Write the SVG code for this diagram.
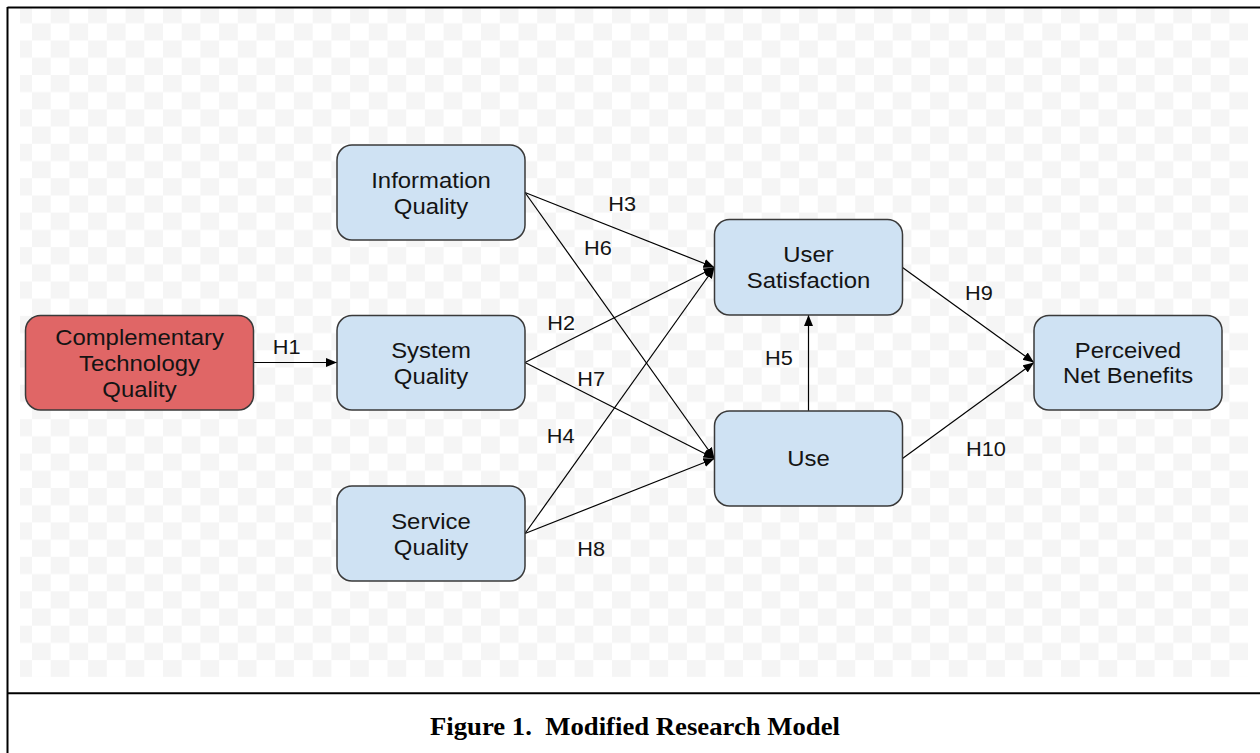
<svg xmlns="http://www.w3.org/2000/svg" width="1260" height="753" viewBox="0 0 1260 753">
<defs>
<pattern id="chk" patternUnits="userSpaceOnUse" x="13.29" y="6.12" width="37.42" height="34.42">
<rect x="0" y="0" width="18.71" height="17.21" fill="#f5f5f5"/>
<rect x="18.71" y="17.21" width="18.71" height="17.21" fill="#f5f5f5"/>
</pattern>
<marker id="arr" markerUnits="userSpaceOnUse" markerWidth="12" markerHeight="10" refX="11" refY="4.5" orient="auto">
<path d="M0,0 L11,4.5 L0,9 Z" fill="#000"/>
</marker>
<style>
.box{fill:#cfe2f3;stroke:#3a3a3a;stroke-width:1.5}
.red{fill:#e06666;stroke:#3a3a3a;stroke-width:1.5}
.nt{font-family:"Liberation Sans",Arial,sans-serif;font-size:22px;fill:#141414;text-anchor:middle}
.lb{font-family:"Liberation Sans",Arial,sans-serif;font-size:20px;fill:#141414}
.edge{stroke:#000;stroke-width:1.2;fill:none;marker-end:url(#arr)}
.frame{stroke:#000;stroke-width:2;fill:none}
</style>
</defs>
<rect x="0" y="0" width="1260" height="753" fill="#fff"/>
<rect x="20" y="8" width="1228" height="669" fill="url(#chk)"/>
<g id="frame">
<line class="frame" x1="7.5" y1="7.5" x2="1260" y2="7.5"/>
<line class="frame" x1="7.5" y1="7" x2="7.5" y2="753"/>
<line class="frame" x1="7" y1="693.3" x2="1260" y2="693.3"/>
</g>
<g id="connectors">
<line class="edge" x1="253" y1="362.5" x2="337" y2="362.5"/>
<line class="edge" x1="525" y1="192.5" x2="714.5" y2="267.5"/>
<line class="edge" x1="525" y1="192.5" x2="714.5" y2="458.5"/>
<line class="edge" x1="525" y1="362.5" x2="714.5" y2="267.5"/>
<line class="edge" x1="525" y1="362.5" x2="714.5" y2="458.5"/>
<line class="edge" x1="525" y1="533.5" x2="714.5" y2="267.5"/>
<line class="edge" x1="525" y1="533.5" x2="714.5" y2="458.5"/>
<line class="edge" x1="808.5" y1="411" x2="808.5" y2="315"/>
<line class="edge" x1="902.5" y1="267.5" x2="1034" y2="362.5"/>
<line class="edge" x1="902.5" y1="458.5" x2="1034" y2="362.5"/>
</g>
<g id="labels">
<text class="lb" transform="translate(272.7,353.5) scale(1.087 1)">H1</text>
<text class="lb" transform="translate(608.3,211) scale(1.087 1)">H3</text>
<text class="lb" transform="translate(584,255) scale(1.087 1)">H6</text>
<text class="lb" transform="translate(547.3,330) scale(1.087 1)">H2</text>
<text class="lb" transform="translate(577.3,386) scale(1.087 1)">H7</text>
<text class="lb" transform="translate(546.7,443.3) scale(1.087 1)">H4</text>
<text class="lb" transform="translate(577.3,556) scale(1.087 1)">H8</text>
<text class="lb" transform="translate(765,365) scale(1.087 1)">H5</text>
<text class="lb" transform="translate(965,300) scale(1.087 1)">H9</text>
<text class="lb" transform="translate(966,456) scale(1.087 1)">H10</text>
</g>
<g id="ctq">
<rect class="red" x="25.5" y="315.5" width="228" height="94.5" rx="15"/>
<text class="nt" transform="translate(139.5,344.5) scale(1.087 1)">Complementary</text>
<text class="nt" transform="translate(139.5,370.5) scale(1.087 1)">Technology</text>
<text class="nt" transform="translate(139.5,396.5) scale(1.087 1)">Quality</text>
</g>
<g id="info">
<rect class="box" x="337" y="145" width="188" height="95" rx="15"/>
<text class="nt" transform="translate(431,187.5) scale(1.087 1)">Information</text>
<text class="nt" transform="translate(431,213.5) scale(1.087 1)">Quality</text>
</g>
<g id="system">
<rect class="box" x="337" y="315.5" width="188" height="94.5" rx="15"/>
<text class="nt" transform="translate(431,357.5) scale(1.087 1)">System</text>
<text class="nt" transform="translate(431,383.5) scale(1.087 1)">Quality</text>
</g>
<g id="service">
<rect class="box" x="337" y="486" width="188" height="95" rx="15"/>
<text class="nt" transform="translate(431,528.5) scale(1.087 1)">Service</text>
<text class="nt" transform="translate(431,554.5) scale(1.087 1)">Quality</text>
</g>
<g id="usersat">
<rect class="box" x="714.5" y="219.5" width="188" height="95.5" rx="15"/>
<text class="nt" transform="translate(808.5,262.3) scale(1.087 1)">User</text>
<text class="nt" transform="translate(808.5,288) scale(1.087 1)">Satisfaction</text>
</g>
<g id="use">
<rect class="box" x="714.5" y="411" width="188" height="95" rx="15"/>
<text class="nt" transform="translate(808.5,466) scale(1.087 1)">Use</text>
</g>
<g id="pnb">
<rect class="box" x="1034" y="315.5" width="188" height="94.5" rx="15"/>
<text class="nt" transform="translate(1128,358) scale(1.087 1)">Perceived</text>
<text class="nt" transform="translate(1128,383) scale(1.087 1)">Net Benefits</text>
</g>
<g id="caption">
<text x="635" y="735" font-family="'Liberation Serif','Times New Roman',serif" font-weight="bold" font-size="25" text-anchor="middle" textLength="410" lengthAdjust="spacingAndGlyphs" fill="#000">Figure 1.&#160; Modified Research Model</text>
</g>
</svg>
